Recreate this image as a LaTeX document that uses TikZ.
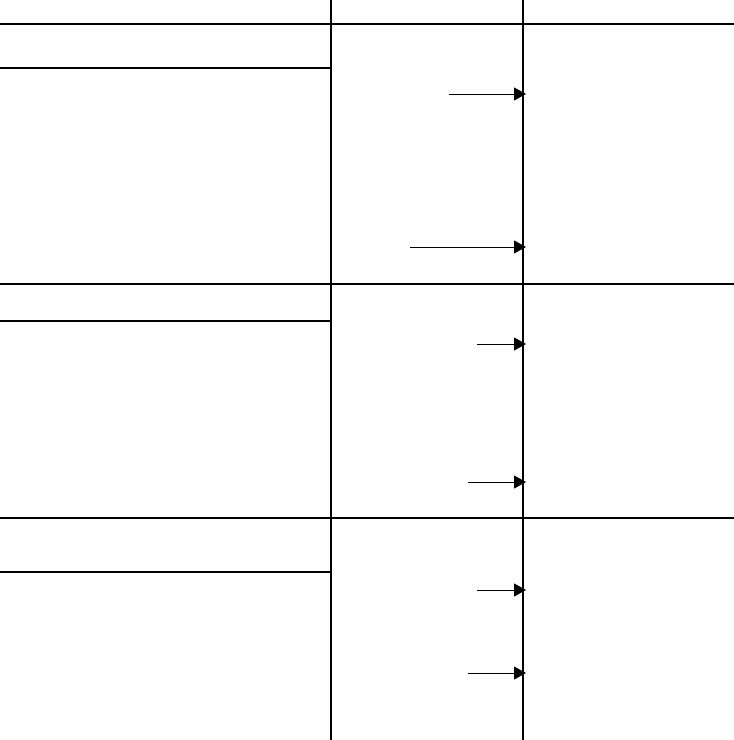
\documentclass[tikz,border=0pt]{standalone}
\usetikzlibrary{arrows.meta}
\tikzset{
  gridline/.style={line width=2pt, line cap=rect},
  pointer/.style={line width=1pt, -{Triangle[length=12pt,width=13pt]}}
}
\begin{document}
\begin{tikzpicture}[x=1pt,y=-1pt]
\useasboundingbox (0,0) rectangle (734,740);
% vertical column lines
\draw[gridline] (331,0) -- (331,740);
\draw[gridline] (523,0) -- (523,740);
% full-width horizontal lines
\draw[gridline] (0,24) -- (734,24);
\draw[gridline] (0,284) -- (734,284);
\draw[gridline] (0,518) -- (734,518);
% left-column sub-header lines
\draw[gridline] (0,68) -- (331,68);
\draw[gridline] (0,321) -- (331,321);
\draw[gridline] (0,572) -- (331,572);
% arrow endpoints
\coordinate (s1) at (449,94);  \coordinate (t1) at (526,94);
\coordinate (s2) at (410,247); \coordinate (t2) at (526,247);
\coordinate (s3) at (477,344); \coordinate (t3) at (526,344);
\coordinate (s4) at (468,482); \coordinate (t4) at (526,482);
\coordinate (s5) at (477,590); \coordinate (t5) at (526,590);
\coordinate (s6) at (468,673); \coordinate (t6) at (526,673);
\foreach \i in {1,...,6} \draw[pointer] (s\i) -- (t\i);
\end{tikzpicture}
\end{document}
